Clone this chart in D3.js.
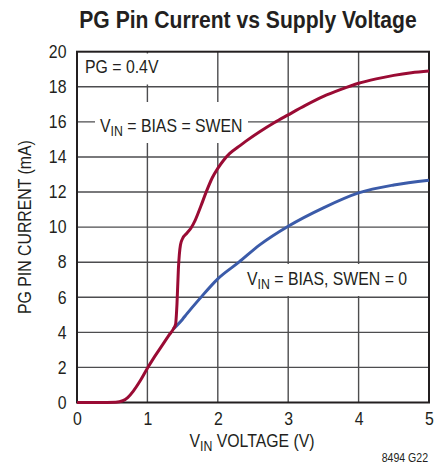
<!DOCTYPE html>
<html>
<head>
<meta charset="utf-8">
<script src="https://cdn.jsdelivr.net/npm/d3@7"></script>
<style>
  body { margin: 0; background: #fff; }
  svg text { font-family: "Liberation Sans", Arial, sans-serif; fill: #231f20; }
</style>
</head>
<body>
<div id="chart"></div>
<script>
// data (x = VIN volts, y = mA)
var swenOn = [[0,0],[0.3,0],[0.55,0.02],[0.65,0.1],[0.72,0.28],[0.8,0.65],[0.9,1.25],[1.0,1.95],
  [1.1,2.6],[1.2,3.2],[1.3,3.8],[1.37,4.2],[1.4,4.45],[1.42,5.6],[1.44,7.6],[1.47,9.0],[1.5,9.35],
  [1.56,9.65],[1.62,9.95],[1.68,10.4],[1.76,11.2],[1.84,12.05],[1.92,12.8],[2.0,13.35],[2.08,13.8],
  [2.17,14.2],[2.3,14.6],[2.4,14.9],[2.6,15.45],[2.8,15.95],[3.0,16.4],[3.25,16.95],[3.5,17.45],
  [3.75,17.85],[4.0,18.2],[4.25,18.45],[4.5,18.65],[4.75,18.8],[5.0,18.9]];
var swenOff = [[1.37,4.2],[1.5,4.75],[1.56,5.05],[1.75,5.95],[2.0,7.05],[2.3,8.0],[2.6,9.0],
  [3.0,10.05],[3.5,11.1],[4.0,11.95],[4.5,12.4],[5.0,12.67]];
var xTicks = [0,1,2,3,4,5];
var yTicks = [0,2,4,6,8,10,12,14,16,18,20];

var W = 448, H = 474;
var mLeft = 77, mTop = 51.7, pw = 352, ph = 350.8;
var SX = 0.88; // squeeze to look like the narrow face

var svg = d3.select("#chart").append("svg").attr("width", W).attr("height", H);

var x = d3.scaleLinear().domain([0,5]).range([mLeft, mLeft + pw]);
var y = d3.scaleLinear().domain([0,20]).range([mTop + ph, mTop]);

// text with an optional subscript "IN" after the first letter
function label(px, py, parts, size, anchor, rot) {
  var t = svg.append("text")
    .attr("transform", "translate(" + px + "," + py + ")" + (rot ? " rotate(" + rot + ")" : "") + " scale(" + SX + ",1)")
    .attr("text-anchor", anchor || "start").style("font-size", size + "px");
  if (typeof parts === "string") { t.text(parts); return t; }
  t.append("tspan").text(parts[0]);
  t.append("tspan").attr("dy", 4).style("font-size", (size - 4) + "px").text(parts[1]);
  t.append("tspan").attr("dy", -4).text(parts[2]);
  return t;
}

label(248, 28, "PG Pin Current vs Supply Voltage", 24, "middle").style("font-weight", "bold");

// grid
var grid = svg.append("g").attr("stroke", "#4d4d4f").attr("stroke-width", 1.4);
grid.selectAll(".gx").data(xTicks.slice(1, -1)).enter().append("line")
  .attr("x1", d => x(d)).attr("x2", d => x(d)).attr("y1", mTop).attr("y2", mTop + ph);
grid.selectAll(".gy").data(yTicks.slice(1, -1)).enter().append("line")
  .attr("y1", d => y(d)).attr("y2", d => y(d)).attr("x1", mLeft).attr("x2", mLeft + pw);

// white boxes behind the labels
var boxes = [[78.5, 53.5, 83, 31], [95, 102, 153, 41], [240, 264, 178, 32]];
svg.selectAll(".box").data(boxes).enter().append("rect")
  .attr("x", d => d[0]).attr("y", d => d[1]).attr("width", d => d[2]).attr("height", d => d[3])
  .attr("fill", "#fff");

svg.append("rect").attr("x", mLeft).attr("y", mTop).attr("width", pw).attr("height", ph)
  .attr("fill", "none").attr("stroke", "#231f20").attr("stroke-width", 2);

var line = d3.line().x(d => x(d[0])).y(d => y(d[1])).curve(d3.curveMonotoneX);
svg.append("path").datum(swenOff).attr("d", line).attr("fill", "none")
  .attr("stroke", "#3b5ba9").attr("stroke-width", 3);
svg.append("path").datum(swenOn).attr("d", line).attr("fill", "none")
  .attr("stroke", "#9a0b34").attr("stroke-width", 3).attr("stroke-linejoin", "round");

// axes
var xAxis = svg.append("g").attr("transform", "translate(0," + (mTop + ph) + ")")
  .call(d3.axisBottom(x).tickValues(xTicks).tickSize(0).tickPadding(10).tickFormat(d3.format("d")));
var yAxis = svg.append("g").attr("transform", "translate(" + mLeft + ",0)")
  .call(d3.axisLeft(y).tickValues(yTicks).tickSize(0).tickPadding(12).tickFormat(d3.format("d")));
[xAxis, yAxis].forEach(function(a){
  a.select(".domain").remove();
  a.selectAll("text").style("font-size", "18px").style("font-family", null)
    .attr("fill", "#231f20").attr("transform", "scale(" + SX + ",1)");
});

// axis titles
label(252, 447, ["V", "IN", " VOLTAGE (V)"], 18, "middle");
label(31, mTop + ph / 2, "PG PIN CURRENT (mA)", 18, "middle", -90);
label(428, 462, "8494 G22", 12, "end");

// in-plot labels
label(85, 73, "PG = 0.4V", 18);
label(100, 132, ["V", "IN", " = BIAS = SWEN"], 18);
label(247, 285, ["V", "IN", " = BIAS, SWEN = 0"], 18);
</script>
</body>
</html>
